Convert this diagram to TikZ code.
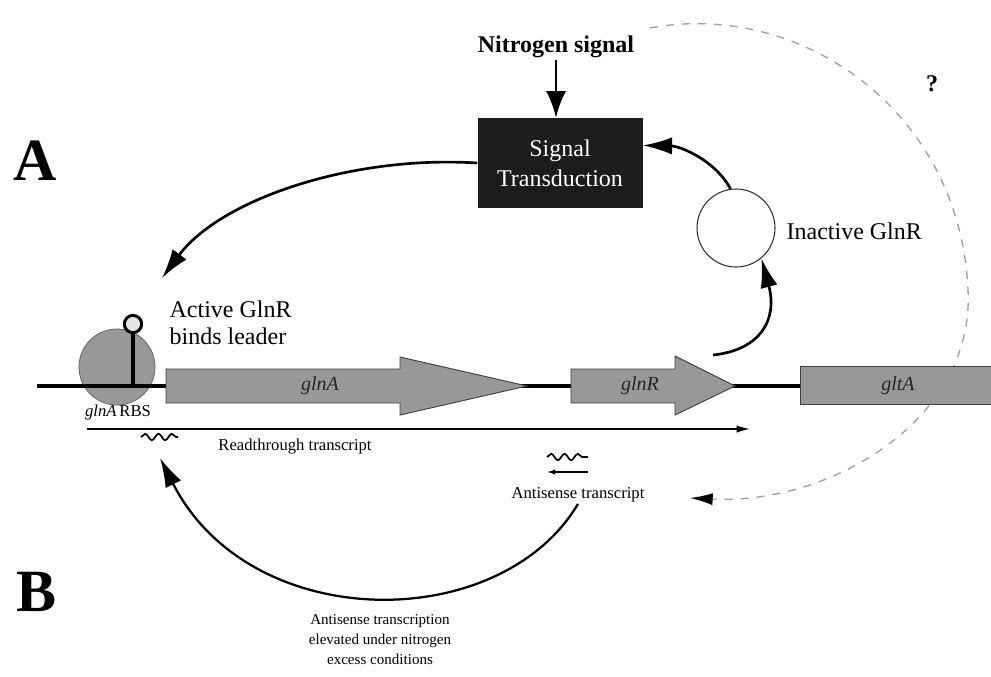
\documentclass[tikz,border=0pt]{standalone}
\usepackage{fontspec}
\setmainfont{Liberation Serif}
\usetikzlibrary{arrows.meta,decorations.pathmorphing}

\definecolor{genegrey}{RGB}{152,152,152}
\definecolor{dashgrey}{RGB}{160,160,160}
\definecolor{boxblack}{RGB}{28,28,28}

\tikzset{
  gene/.style={draw=black!75, fill=genegrey, line width=0.7pt},
  dna/.style={line width=2.6pt},
  bendarrow/.style={line width=2pt, -{Latex[length=22pt,width=13pt]}},
  nitarrow/.style={line width=1.8pt, -{Latex[length=20pt,width=15pt]}},
  queryarrow/.style={dashgrey, line width=1pt, dash pattern=on 6pt off 6pt, -{Latex[length=17pt,width=9pt,black]}},
  thinarrow/.style={line width=1.2pt, -{Latex[length=10pt,width=5.5pt]}},
  squiggle/.style={line width=1.3pt, decorate, decoration={snake, amplitude=2.4pt, segment length=10pt}},
  lbl/.style={inner sep=1pt, font=\fontsize{18}{20}\selectfont},
  boldlbl/.style={inner sep=1pt, font=\bfseries\fontsize{18}{20}\selectfont},
  smalllbl/.style={inner sep=1pt, font=\fontsize{12.5}{15}\selectfont},
  genelbl/.style={inner sep=1pt, font=\itshape\fontsize{15}{15}\selectfont, text=black!85},
  panel/.style={inner sep=1pt, font=\bfseries\fontsize{45}{45}\selectfont},
  sigbox/.style={fill=boxblack, text=white, minimum width=123.75pt, minimum height=67.5pt, align=center, font=\fontsize{18}{22.5}\selectfont}
}

\begin{document}
\begin{tikzpicture}[x=0.75pt,y=0.75pt,yscale=-1,xscale=1]
\useasboundingbox (0,0) rectangle (991,676);

% Panel letters
\node[panel] (pa) at (35,161) {A};
\node[panel] (pb) at (37,592) {B};

% Signal transduction box and nitrogen input
\node[sigbox] (sig) at (560,163) {Signal\\Transduction};
\node[boldlbl] (nit) at (556,47) {Nitrogen signal};
\draw[nitarrow] (nit.south) -- (nit.south |- sig.north);

% GlnR circles
\node[circle, draw=black!80, line width=0.8pt, fill=white, minimum size=58.5pt, inner sep=0pt] (inact) at (736,228) {};
\node[lbl, anchor=west] (inactlbl) at (785,231) {Inactive GlnR};
\node[circle, draw=black!60, line width=0.6pt, fill=genegrey, minimum size=57pt, inner sep=0pt] (act) at (117,367) {};
\node[lbl, anchor=west, align=left] (actlbl) at (168,323) {Active GlnR\\binds leader};

% Dashed feedback with query
\coordinate (qstart) at (650,28);
\coordinate (qend) at (690,498);
\draw[queryarrow] (qstart) .. controls (800,0) and (960,110) .. (968,290) .. controls (975,420) and (830,505) .. (qend);
\node[boldlbl] (q) at (932,84) {?};

% DNA and genes
\draw[dna] (37,386) -- (805,386);
\draw[gene] (166,369) -- (400,369) -- (400,357) -- (527,386) -- (400,415) -- (400,403) -- (166,403) -- cycle;
\draw[gene] (571,369) -- (675,369) -- (675,356) -- (735,386) -- (675,415) -- (675,403) -- (571,403) -- cycle;
\draw[gene] (800,366) rectangle (1000,404);
\node[genelbl] (glna) at (320,386) {glnA};
\node[genelbl] (glnr) at (640,386) {glnR};
\node[genelbl] (glta) at (898,386) {gltA};

% Leader hairpin
\node[circle, draw=black, line width=2.2pt, fill=black!10, minimum size=13pt, inner sep=0pt] (loop) at (133,324) {};
\draw[line width=2.5pt] (loop.south) -- (133,386);
\node[smalllbl] (rbs) at (118,412) {\textit{glnA}\,RBS};

% Transcripts
\coordinate (rtstart) at (87,429);
\coordinate (rtend) at (750,429);
\draw[thinarrow] (rtstart) -- (rtend);
\node[smalllbl] (rt) at (295,447) {Readthrough transcript};
\draw[squiggle] (141,437) -- (178,437);
\draw[squiggle] (547,457) -- (588,457);
\draw[line width=1pt, -{Latex[length=6pt,width=4pt]}] (588,472) -- (547,472);
\node[smalllbl] (ast) at (578,495) {Antisense transcript};

% Regulatory arrows
\coordinate (acttip) at (162,278);
\coordinate (rttip) at (160,458);
\coordinate (rhead) at (713,355);
\draw[bendarrow] (sig.west) .. controls (350,155) and (220,200) .. (acttip);
\draw[bendarrow] (inact.98) .. controls (715,160) and (680,146) .. (sig.12);
\draw[bendarrow] (rhead) .. controls (760,350) and (778,320) .. (inact.-50);
\draw[line width=1.7pt, -{Latex[length=22pt,width=13pt]}] (ast.south) .. controls (500,635) and (250,635) .. (rttip);

% Antisense note
\node[smalllbl, align=center, font=\fontsize{11.3}{15}\selectfont] (note) at (380,640) {Antisense transcription\\elevated under nitrogen\\excess conditions};

\end{tikzpicture}
\end{document}
